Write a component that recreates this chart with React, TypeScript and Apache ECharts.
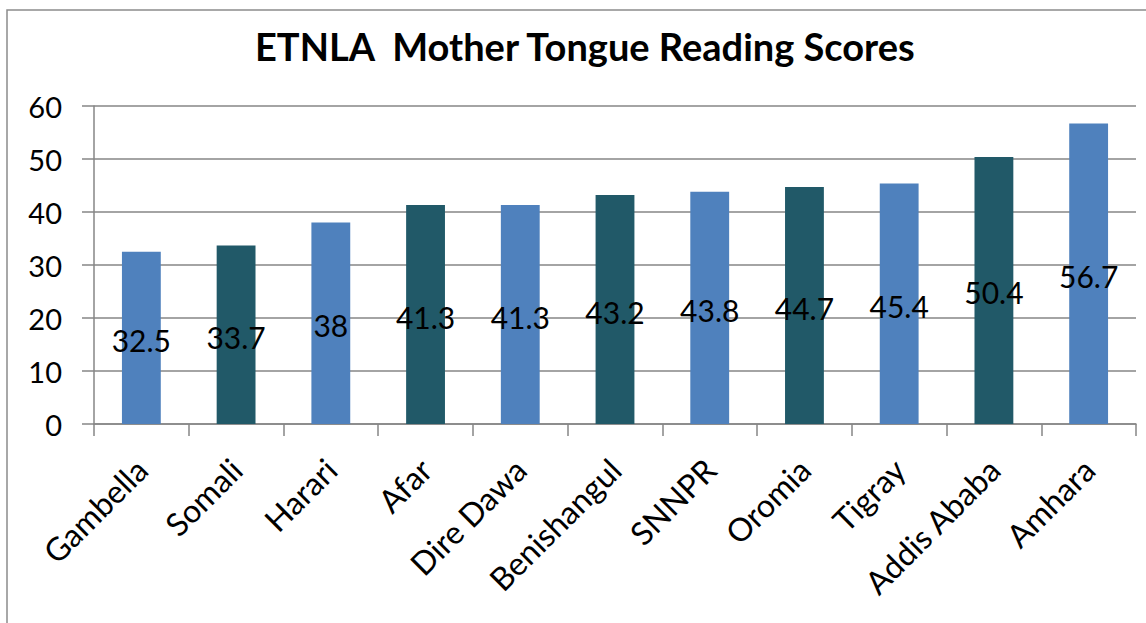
import React, { useEffect, useRef } from "react";
import * as echarts from "echarts";

const categories = ["Gambella", "Somali", "Harari", "Afar", "Dire Dawa", "Benishangul", "SNNPR", "Oromia", "Tigray", "Addis Ababa", "Amhara"];
const scores = [32.5, 33.7, 38, 41.3, 41.3, 43.2, 43.8, 44.7, 45.4, 50.4, 56.7];
const barColors = ["#4F81BD", "#215968", "#4F81BD", "#215968", "#4F81BD", "#215968", "#4F81BD", "#215968", "#4F81BD", "#215968", "#4F81BD"];
const yTicks = [0, 10, 20, 30, 40, 50, 60];

const FONT = "Lato, 'Open Sans', sans-serif";

export default function App() {
  const ref = useRef<HTMLDivElement>(null);
  useEffect(() => {
    document.body.style.margin = "0";
    if (!ref.current) return;
    const chart = echarts.init(ref.current, null, { renderer: "svg" });
    chart.setOption({
      animation: false,
      backgroundColor: "#ffffff",
      title: {
        text: "ETNLA  Mother Tongue Reading Scores",
        left: 250,
        top: 22,
        textStyle: { fontFamily: FONT, fontWeight: "bold", fontSize: 38, color: "#000" },
      },
      graphic: [
        {
          type: "rect",
          shape: { x: 7, y: 10, width: 1300, height: 800 },
          style: { fill: "none", stroke: "#8c8c8c", lineWidth: 1.5 },
          silent: true,
        },
      ],
      grid: { left: 94, right: 10, top: 106, bottom: 199, containLabel: false },
      xAxis: {
        type: "category",
        data: categories,
        axisLine: { lineStyle: { color: "#868686", width: 1.5 } },
        axisTick: { show: true, length: 12, lineStyle: { color: "#868686", width: 1.5 } },
        axisLabel: { rotate: 45, fontFamily: FONT, fontSize: 32, color: "#000", margin: 40, interval: 0 },
      },
      yAxis: {
        type: "value",
        min: yTicks[0],
        max: yTicks[yTicks.length - 1],
        interval: 10,
        axisLine: { show: true, lineStyle: { color: "#868686", width: 1.5 } },
        axisTick: { show: true, length: 12, lineStyle: { color: "#868686", width: 1.5 } },
        splitLine: { show: true, lineStyle: { color: "#868686", width: 1.5 } },
        axisLabel: { fontFamily: FONT, fontSize: 29, color: "#000", margin: 32 },
      },
      series: [
        {
          type: "bar",
          data: scores.map((v, i) => ({ value: v, itemStyle: { color: barColors[i] } })),
          barWidth: "41%",
          label: {
            show: true,
            position: "inside",
            offset: [0, 2],
            fontFamily: FONT,
            fontSize: 30,
            color: "#000",
          },
        },
      ],
    });
    return () => chart.dispose();
  }, []);
  return <div ref={ref} style={{ width: 1146, height: 623 }} />;
}
